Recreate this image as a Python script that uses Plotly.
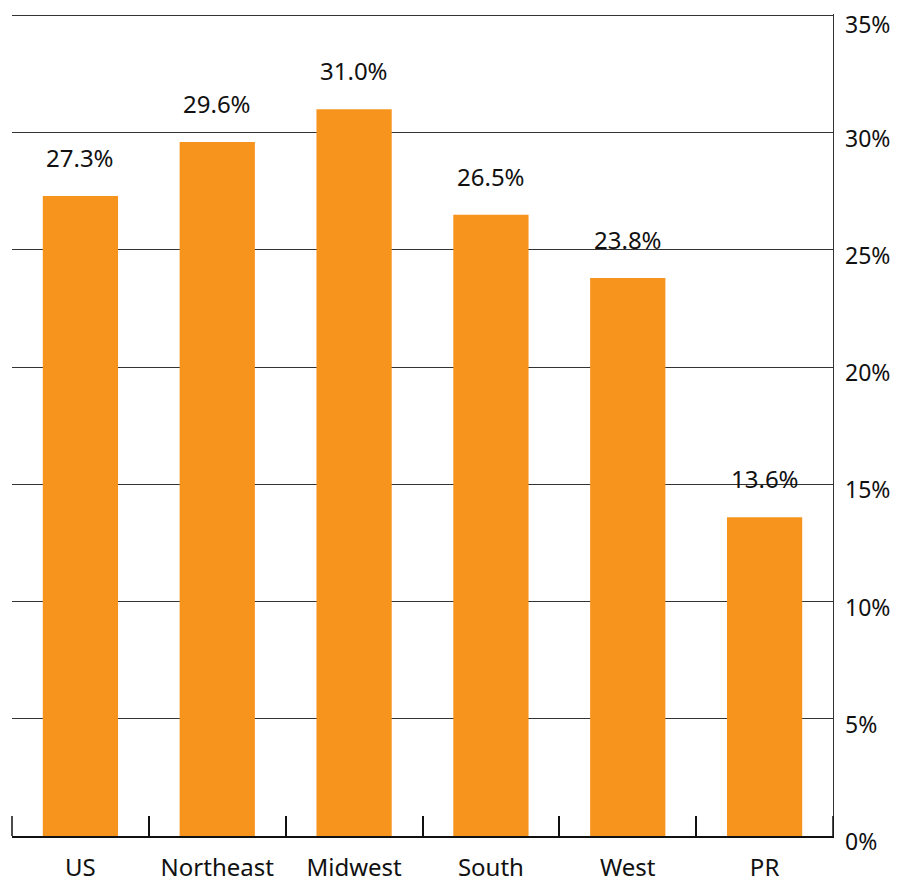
import plotly.graph_objects as go

# données
regions = ["US", "Northeast", "Midwest", "South", "West", "PR"]
shares = [27.3, 29.6, 31.0, 26.5, 23.8, 13.6]
y_ticks = [0, 5, 10, 15, 20, 25, 30, 35]

BAR_COLOR = "#F7941D"
FONT = "Noto Sans"
TEXT_COLOR = "#111"

fig = go.Figure()
fig.add_trace(
    go.Bar(
        x=regions,
        y=shares,
        marker=dict(color=BAR_COLOR, line=dict(width=0)),
        hoverinfo="x+y",
    )
)

# libellés au-dessus des barres, décalés comme sur l'original
for r, v in zip(regions, shares):
    fig.add_annotation(
        x=r, y=v, text=f"{v:.1f}%", showarrow=False,
        yanchor="bottom", yshift=20,
        font=dict(family=FONT, size=24, color=TEXT_COLOR),
    )

# étiquettes de l'axe Y à droite, un peu sous chaque ligne de grille
# (en annotations : plotly masque le "35%" collé au bord supérieur)
for t in y_ticks:
    fig.add_annotation(
        xref="paper", yref="y", x=1, y=t, text=f"{t}%",
        showarrow=False, xanchor="left", yanchor="middle",
        xshift=10, yshift=-9 if t == y_ticks[-1] else -5,
        font=dict(family=FONT, size=23, color=TEXT_COLOR),
    )

# petites graduations aux deux extrémités de l'axe X
for xp in (0, 1):
    fig.add_shape(
        type="line", xref="paper", yref="paper",
        x0=xp, x1=xp, y0=0, y1=20 / 822,
        line=dict(color="#111", width=1.5),
    )

# la page ajoute une marge de 8 px autour du graphique
fig.update_layout(
    width=891,
    height=875,
    margin=dict(l=4, r=66, t=6, b=47),
    paper_bgcolor="white",
    plot_bgcolor="white",
    bargap=0.45,
    showlegend=False,
    font=dict(family=FONT, size=24, color=TEXT_COLOR),
    xaxis=dict(
        automargin=False,
        showgrid=False,
        showline=True,
        linecolor="#111",
        linewidth=1.5,
        ticks="inside",
        ticklen=20,
        tickwidth=1.5,
        tickcolor="#111",
        tickson="boundaries",
        ticklabelstandoff=9,
        tickfont=dict(size=24),
    ),
    yaxis=dict(
        automargin=False,
        side="right",
        range=[0, 35.06],
        tickvals=y_ticks,
        showticklabels=False,
        showgrid=True,
        gridcolor="#333",
        gridwidth=1,
        zeroline=False,
        showline=True,
        linecolor="#333",
        linewidth=1,
        ticks="",
    ),
)

fig.write_html("out.html")
